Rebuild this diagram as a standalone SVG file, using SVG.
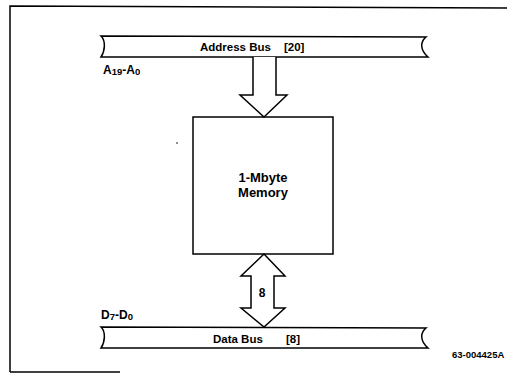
<svg xmlns="http://www.w3.org/2000/svg" width="507" height="376" viewBox="0 0 507 376">
<style>
.ln{fill:none;stroke:#000;stroke-width:1.5;stroke-linejoin:miter}
.sh{fill:#fff;stroke:#000;stroke-width:1.5;stroke-linejoin:miter}
.t{font-family:"Liberation Sans",Arial,sans-serif;font-weight:bold;font-size:12px;fill:#000}
.bt{font-size:11.5px}
.sub{font-size:9.5px}
</style>
<rect width="507" height="376" fill="#fff"/>
<g id="frame">
<path class="ln" d="M10,372 L10,6 L507,8"/>
<path class="ln" d="M10,372 L120,372"/>
</g>
<g id="address-bus">
<path class="sh" d="M101,36 L426,37 C420,42 420,50 428,57 L101,57 C105,51 106,41 101,36 Z"/>
<text class="t bt" x="200" y="51">Address Bus</text>
<text class="t bt" x="284" y="51">[20]</text>
<text class="t" x="103" y="74">A<tspan class="sub" dy="1">19</tspan><tspan dy="-1">-A</tspan><tspan class="sub" dy="1">0</tspan></text>
</g>
<g id="memory">
<rect class="sh" x="193" y="117" width="140" height="137" stroke-width="2"/>
<text class="t" x="263" y="182" text-anchor="middle" style="font-size:13px">1-Mbyte</text>
<text class="t" x="263" y="197" text-anchor="middle" style="font-size:13px">Memory</text>
<circle cx="177" cy="143" r="0.8" fill="#000"/>
</g>
<g id="data-bus">
<path class="sh" d="M101,327 L426,328 C420,333 420,341 428,348 L101,348 C105,342 106,332 101,327 Z"/>
<text class="t bt" x="213" y="343">Data Bus</text>
<text class="t bt" x="286" y="343">[8]</text>
<text class="t" x="101" y="319">D<tspan class="sub" dy="1">7</tspan><tspan dy="-1">-D</tspan><tspan class="sub" dy="1">0</tspan></text>
</g>
<g id="connectors">
<path class="sh" d="M253,57 L253,95 L240,95 L264,117 L287,95 L276,95 L276,57"/>
<path class="sh" d="M264,254 L285,276 L274,276 L274,308 L285,308 L264,327 L241,308 L251,308 L251,276 L241,276 Z"/>
<text class="t" x="262" y="297" text-anchor="middle">8</text>
</g>
<text x="452" y="358" style="font-family:'Liberation Sans',Arial,sans-serif;font-weight:bold;font-size:9.5px">63-004425A</text>
</svg>
